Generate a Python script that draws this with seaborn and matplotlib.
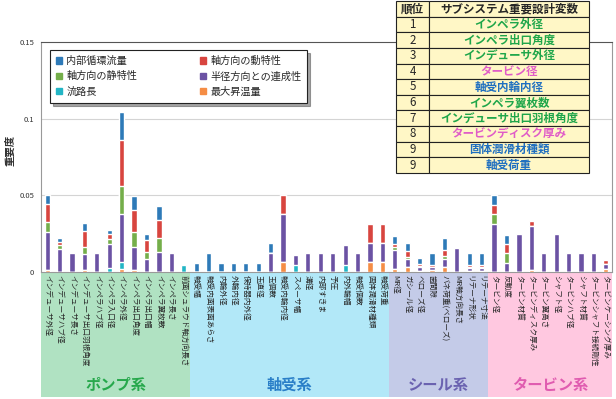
import matplotlib
matplotlib.use('Agg')
import matplotlib.pyplot as plt
from matplotlib.patches import Rectangle
import seaborn as sns
import numpy as np

# 設計変数（横軸）
pump_vars = ['インデューサ外径', 'インデューサハブ径', 'インデューサ長さ', 'インデューサ出口羽根角度',
             'インペラハブ径', 'インペラ入口径', 'インペラ外径', 'インペラ出口角度',
             'インペラ出口幅', 'インペラ翼枚数', 'インペラ長さ', '前面シュラウド軸方向長さ']
bearing_vars = ['軸受幅', '軸受内面表面あらさ', '内輪外径', '外輪内径', '保持器内外径', '玉直径',
                '玉個数', '軸受内輪内径', 'スペーサ幅', '溝径', '内部すきま', '予圧',
                '内外輪幅', '軸受個数', '固体潤滑材種類', '軸受荷重']
seal_vars = ['MR径', 'ガシール径', 'ベローズ径', '歯間隙', 'バネ荷重(ベローズ)',
             'MR軸方向長さ', 'リテーナ形状', 'リテーナ寸法']
turbine_vars = ['タービン径', '反動度', 'タービン材質', 'タービンディスク厚み', 'タービン翼高さ',
                'シャフト径', 'タービンハブ径', 'シャフト材質', 'タービンシャフト接続剛性',
                'タービンケーシング厚み']
categories = pump_vars + bearing_vars + seal_vars + turbine_vars

# 各評価項目の重要度（下から積み上げ順）
max_temp = [0.001, 0, 0, 0.001, 0, 0, 0.0017, 0.0012, 0, 0, 0, 0,
            0, 0, 0, 0, 0, 0, 0, 0.0067, 0, 0, 0, 0, 0, 0, 0.0067, 0.0067,
            0.0017, 0.003, 0.0008, 0.0013, 0.0035, 0, 0.0008, 0.0008,
            0, 0, 0, 0.0013, 0, 0, 0, 0, 0, 0.0017]
path_len = [0, 0, 0, 0, 0, 0.0028, 0.0048, 0, 0, 0, 0, 0.0045,
            0, 0, 0, 0, 0, 0, 0, 0, 0.0043, 0, 0, 0, 0.0043, 0, 0, 0,
            0, 0, 0, 0, 0, 0, 0, 0,
            0, 0, 0, 0, 0, 0, 0, 0, 0, 0]
radial = [0.025, 0.0147, 0.0125, 0.011, 0.0125, 0.0154, 0.0316, 0.0152, 0.0082, 0.0128, 0.0125, 0,
          0, 0, 0, 0, 0, 0, 0.0121, 0.0314, 0.0065, 0.0125, 0.0125, 0.0125, 0.013, 0.0125, 0.0123, 0.0123,
          0.0126, 0.0052, 0.0022, 0.0017, 0.0047, 0.0158, 0.002, 0.002,
          0.0316, 0.006, 0.0251, 0.0285, 0.0125, 0.0251, 0.0125, 0.0125, 0.0125, 0.0035]
axial_static = [0.0065, 0.0026, 0, 0.0045, 0, 0.003, 0.0182, 0.0094, 0.0048, 0.0093, 0, 0,
                0, 0, 0, 0, 0, 0, 0, 0, 0, 0, 0, 0, 0, 0, 0, 0,
                0.0019, 0.0017, 0.0012, 0, 0.0022, 0, 0.0005, 0.0005,
                0.006, 0.0061, 0, 0, 0, 0, 0, 0, 0, 0]
axial_dynamic = [0.012, 0.002, 0, 0.0104, 0, 0.0033, 0.0298, 0.0149, 0.0076, 0.0116, 0, 0,
                 0, 0, 0, 0, 0, 0, 0, 0.0121, 0, 0, 0, 0, 0, 0, 0.0121, 0.0121,
                 0.002, 0.0037, 0.0012, 0.0015, 0.0039, 0, 0.0012, 0.0012,
                 0.0059, 0.0061, 0, 0.0033, 0, 0, 0, 0, 0, 0.0026]
inner_flow = [0.0057, 0.0026, 0, 0.0048, 0, 0.0028, 0.0184, 0.0088, 0.0041, 0.0093, 0, 0,
              0.0056, 0.0121, 0.006, 0.006, 0.006, 0.006, 0.0065, 0, 0, 0, 0, 0, 0, 0, 0, 0,
              0.0052, 0.005, 0.0035, 0.0076, 0.0076, 0, 0.0076, 0.0076,
              0.0065, 0.0062, 0, 0, 0, 0, 0, 0, 0, 0]

series_names = ['最大昇温量', '流路長', '半径方向との連成性', '軸方向の静特性', '軸方向の動特性', '内部循環流量']
series_vals = [max_temp, path_len, radial, axial_static, axial_dynamic, inner_flow]
series_colors = ['#f58d45', '#22b5c5', '#6b52a3', '#74ae4a', '#d8453f', '#2e7ab8']

# サブシステム重要設計変数ランキング
rank_no = ['1', '2', '3', '4', '5', '6', '7', '8', '9', '9']
rank_var = ['インペラ外径', 'インペラ出口角度', 'インデューサ外径', 'タービン径', '軸受内輪内径',
            'インペラ翼枚数', 'インデューサ出口羽根角度', 'タービンディスク厚み', '固体潤滑材種類', '軸受荷重']
rank_sys = ['pump', 'pump', 'pump', 'turbine', 'bearing', 'pump', 'pump', 'turbine', 'bearing', 'bearing']

groups = [('ポンプ系', len(pump_vars), '#b0e2c2', '#27a84c'),
          ('軸受系', len(bearing_vars), '#b2e8f8', '#2a7fc8'),
          ('シール系', len(seal_vars), '#c4cbe8', '#6a62b0'),
          ('タービン系', len(turbine_vars), '#ffc8e0', '#e05cb0')]
sys_color = {'pump': '#1fa64a', 'bearing': '#1f6fc0', 'turbine': '#e05cc8'}

sns.set_style('white')
plt.rcParams['font.family'] = ['Noto Sans CJK JP', 'DejaVu Sans']

fig = plt.figure(figsize=(6.16, 3.99), dpi=100)
ax = fig.add_axes([41 / 616, 1 - 272 / 399, 571 / 616, 230 / 399])

# 累積値を上の層から順に描いて積み上げ棒にする
cum = np.cumsum(np.array(series_vals), axis=0)
for i in range(len(series_vals) - 1, -1, -1):
    sns.barplot(x=categories, y=cum[i], order=categories, color=series_colors[i],
                width=0.42, saturation=1, errorbar=None, ax=ax, zorder=3)

ax.set_xlim(-0.5, len(categories) - 0.5)
ax.set_ylim(0, 0.15)
ax.set_yticks([0, 0.05, 0.1, 0.15])
ax.set_yticklabels(['0', '0.05', '0.1', '0.15'], fontsize=5.5, color='#333333')
ax.tick_params(axis='y', length=0, pad=5)
ax.set_xticks(range(len(categories)))
ax.set_xticklabels(categories, rotation=-90, fontsize=5.5, ha='center', va='top')
ax.tick_params(axis='x', length=0, pad=2)
ax.set_xlabel('')
ax.set_ylabel('重要度', fontsize=7.5, fontweight='bold', color='#333333')
ax.yaxis.set_label_coords(-0.045, 0.53)

for y in [0.05, 0.1]:
    ax.axhline(y, color='#d4d4d4', lw=0.8, zorder=1)
for side in ['left', 'bottom', 'right']:
    ax.spines[side].set_color('#999999')
    ax.spines[side].set_linewidth(0.8)
ax.spines['top'].set_color('#555555')
ax.spines['top'].set_linewidth(0.8)

# サブシステム帯
start = 0
for name, n, band_c, text_c in groups:
    ax.add_patch(Rectangle((start - 0.5, 0), n, -0.545, transform=ax.get_xaxis_transform(),
                           clip_on=False, facecolor=band_c, edgecolor='none', zorder=0))
    ax.text(start - 0.5 + n / 2, -0.49, name, transform=ax.get_xaxis_transform(),
            ha='center', va='center', fontsize=11, fontweight='bold', color=text_c)
    start += n

# 凡例
handles = [Rectangle((0, 0), 1, 1, color=series_colors[i]) for i in [5, 3, 1, 4, 2, 0]]
labels = [series_names[i] for i in [5, 3, 1, 4, 2, 0]]
leg = ax.legend(handles, labels, ncol=2, loc='upper left', bbox_to_anchor=(0.016, 0.965),
                borderaxespad=0, fontsize=7.3, frameon=True, fancybox=False, shadow=True,
                edgecolor='#222222', handlelength=0.6, handleheight=0.6, handletextpad=0.4,
                columnspacing=6.2, labelspacing=0.5, borderpad=0.6)
leg.get_frame().set_linewidth(0.8)

# ランキング表
ax_t = fig.add_axes([396 / 616, 1 - 173 / 399, 193 / 616, 172 / 399])
ax_t.axis('off')
cell_text = [[r, v] for r, v in zip(rank_no, rank_var)]
tbl = ax_t.table(cellText=cell_text, colLabels=['順位', 'サブシステム重要設計変数'],
                 bbox=[0, 0, 1, 1], colWidths=[0.172, 0.828], cellLoc='center')
tbl.auto_set_font_size(False)
tbl.set_fontsize(8.3)
for (r, c), cell in tbl.get_celld().items():
    cell.set_facecolor('#fff7c6')
    cell.set_edgecolor('#222222')
    cell.set_linewidth(0.8)
    txt = cell.get_text()
    if r == 0:
        txt.set_fontweight('bold')
    elif c == 1:
        txt.set_color(sys_color[rank_sys[r - 1]])
        txt.set_fontweight('bold')

fig.savefig('out.png', dpi=100)
